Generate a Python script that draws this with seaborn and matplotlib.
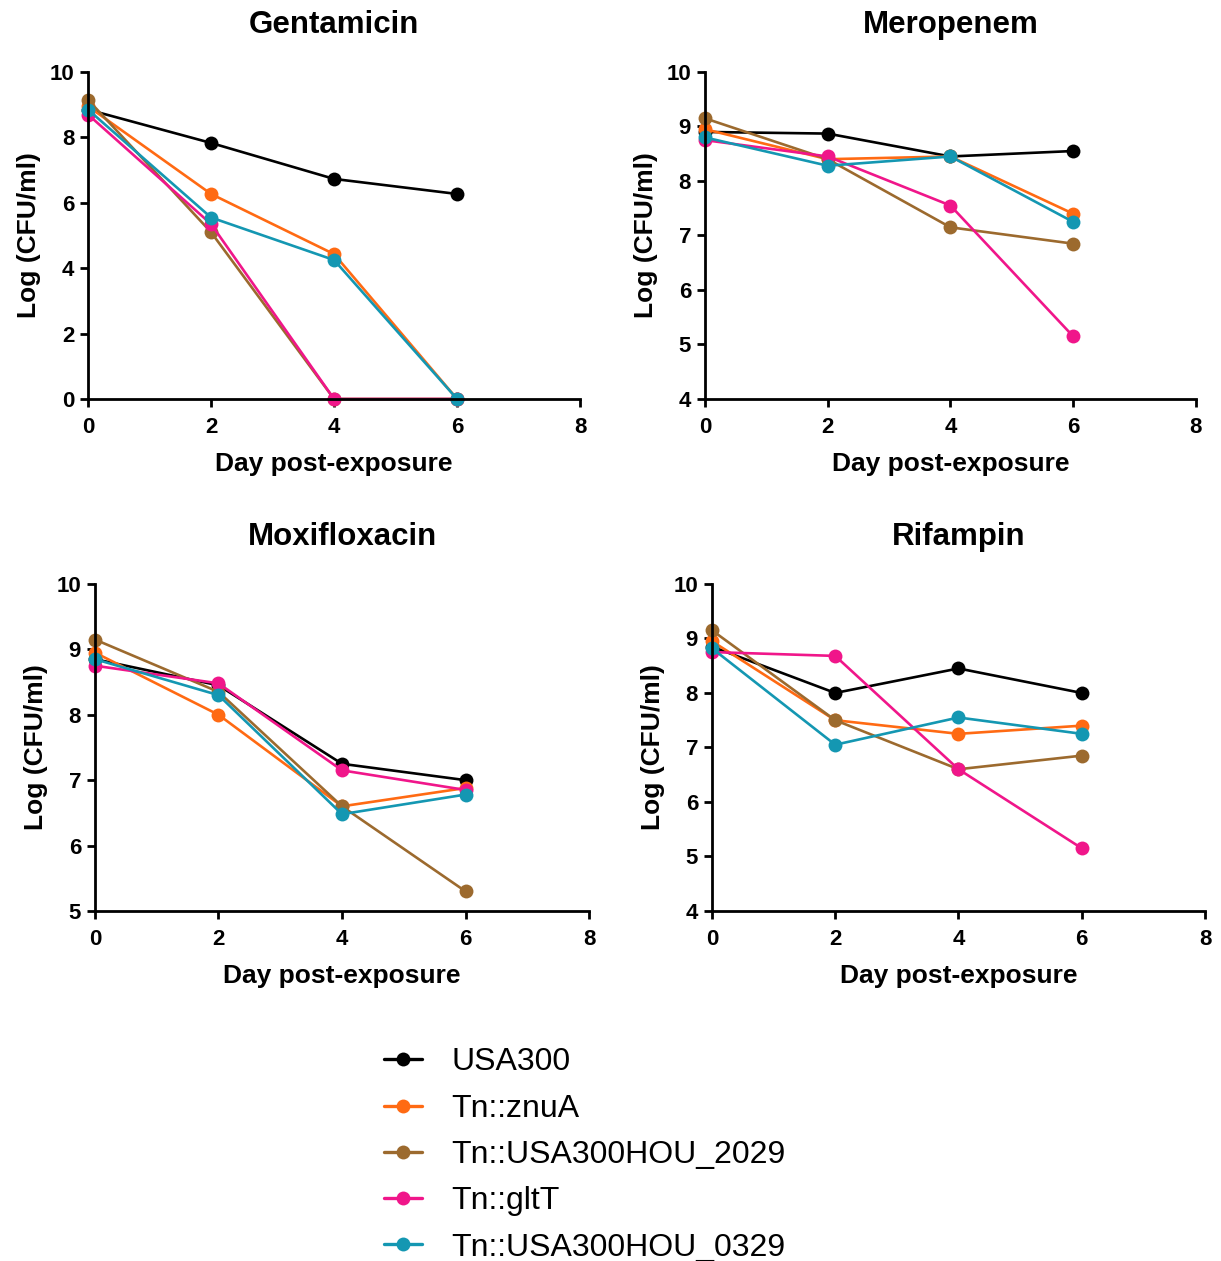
import numpy as np
import pandas as pd
import matplotlib
matplotlib.use('Agg')
import matplotlib.pyplot as plt
import seaborn as sns
from matplotlib.lines import Line2D

# data
days = [0, 2, 4, 6]
strains = ['USA300', 'Tn::znuA', 'Tn::USA300HOU_2029', 'Tn::gltT', 'Tn::USA300HOU_0329']
colors = ['#000000', '#ff6a13', '#9c6a2e', '#f0168a', '#1497b2']

gentamicin = [
    [8.85, 7.83, 6.73, 6.27],
    [8.95, 6.27, 4.43, 0.0],
    [9.15, 5.10, 0.0, 0.0],
    [8.70, 5.35, 0.0, 0.0],
    [8.85, 5.55, 4.25, 0.0],
]
meropenem = [
    [8.90, 8.87, 8.45, 8.55],
    [8.95, 8.40, 8.45, 7.40],
    [9.15, 8.40, 7.15, 6.85],
    [8.75, 8.45, 7.55, 5.15],
    [8.80, 8.28, 8.45, 7.25],
]
moxifloxacin = [
    [8.85, 8.45, 7.25, 7.00],
    [8.95, 8.00, 6.60, 6.88],
    [9.15, 8.35, 6.60, 5.30],
    [8.75, 8.48, 7.15, 6.85],
    [8.85, 8.30, 6.48, 6.78],
]
rifampin = [
    [8.85, 8.00, 8.45, 8.00],
    [8.95, 7.50, 7.25, 7.40],
    [9.15, 7.50, 6.60, 6.85],
    [8.75, 8.68, 6.60, 5.15],
    [8.82, 7.05, 7.55, 7.25],
]

panels = [
    ('Gentamicin', gentamicin, (0, 10), [0, 2, 4, 6, 8, 10]),
    ('Meropenem', meropenem, (4, 10), [4, 5, 6, 7, 8, 9, 10]),
    ('Moxifloxacin', moxifloxacin, (5, 10), [5, 6, 7, 8, 9, 10]),
    ('Rifampin', rifampin, (4, 10), [4, 5, 6, 7, 8, 9, 10]),
]

# axes rectangles in figure fractions (left, bottom, width, height)
rects = [
    (0.0721, 0.6836, 0.403, 0.2593),
    (0.5774, 0.6836, 0.402, 0.2593),
    (0.0778, 0.2776, 0.4046, 0.2593),
    (0.5831, 0.2776, 0.4038, 0.2593),
]

sns.set_style('ticks')
plt.rcParams['font.family'] = ['Liberation Sans', 'DejaVu Sans']
plt.rcParams['text.color'] = 'black'
plt.rcParams['axes.labelcolor'] = 'black'
plt.rcParams['xtick.color'] = 'black'
plt.rcParams['ytick.color'] = 'black'

fig = plt.figure(figsize=(12.21, 12.61), dpi=100)
palette = dict(zip(strains, colors))

for (title, values, ylim, yticks), rect in zip(panels, rects):
    ax = fig.add_axes(rect)
    rows = []
    for s, vals in zip(strains, values):
        for d, v in zip(days, vals):
            rows.append({'day': d, 'log_cfu': v, 'strain': s})
    df = pd.DataFrame(rows)
    sns.lineplot(data=df, x='day', y='log_cfu', hue='strain', hue_order=strains,
                 palette=palette, marker='o', markersize=10, markeredgewidth=0,
                 linewidth=1.9, legend=False, clip_on=False, ax=ax)
    ax.set_xlim(0, 8)
    ax.set_ylim(*ylim)
    ax.set_xticks([0, 2, 4, 6, 8])
    ax.set_yticks(yticks)
    ax.set_title(title, fontsize=22.5, fontweight='bold', pad=28)
    ax.set_xlabel('Day post-exposure', fontsize=19, fontweight='bold', labelpad=10)
    ax.set_ylabel('Log (CFU/ml)', fontsize=19, fontweight='bold', labelpad=6)
    for lab in ax.get_xticklabels() + ax.get_yticklabels():
        lab.set_fontweight('bold')
    ax.tick_params(axis='both', labelsize=16, width=2, length=6, direction='out')
    ax.tick_params(axis='x', pad=7)
    ax.tick_params(axis='y', pad=4)
    for side in ['top', 'right']:
        ax.spines[side].set_visible(False)
    for side in ['left', 'bottom']:
        ax.spines[side].set_linewidth(2)
        ax.spines[side].set_color('black')

handles = [Line2D([0], [0], color=c, marker='o', markersize=10, markeredgewidth=0,
                  linewidth=2.4) for c in colors]
fig.legend(handles, strains, loc='upper left', bbox_to_anchor=(0.3015, 0.182),
           frameon=False, fontsize=23, handlelength=1.2, handletextpad=0.9,
           labelspacing=0.51, borderpad=0)

fig.savefig('out.png', dpi=100)
